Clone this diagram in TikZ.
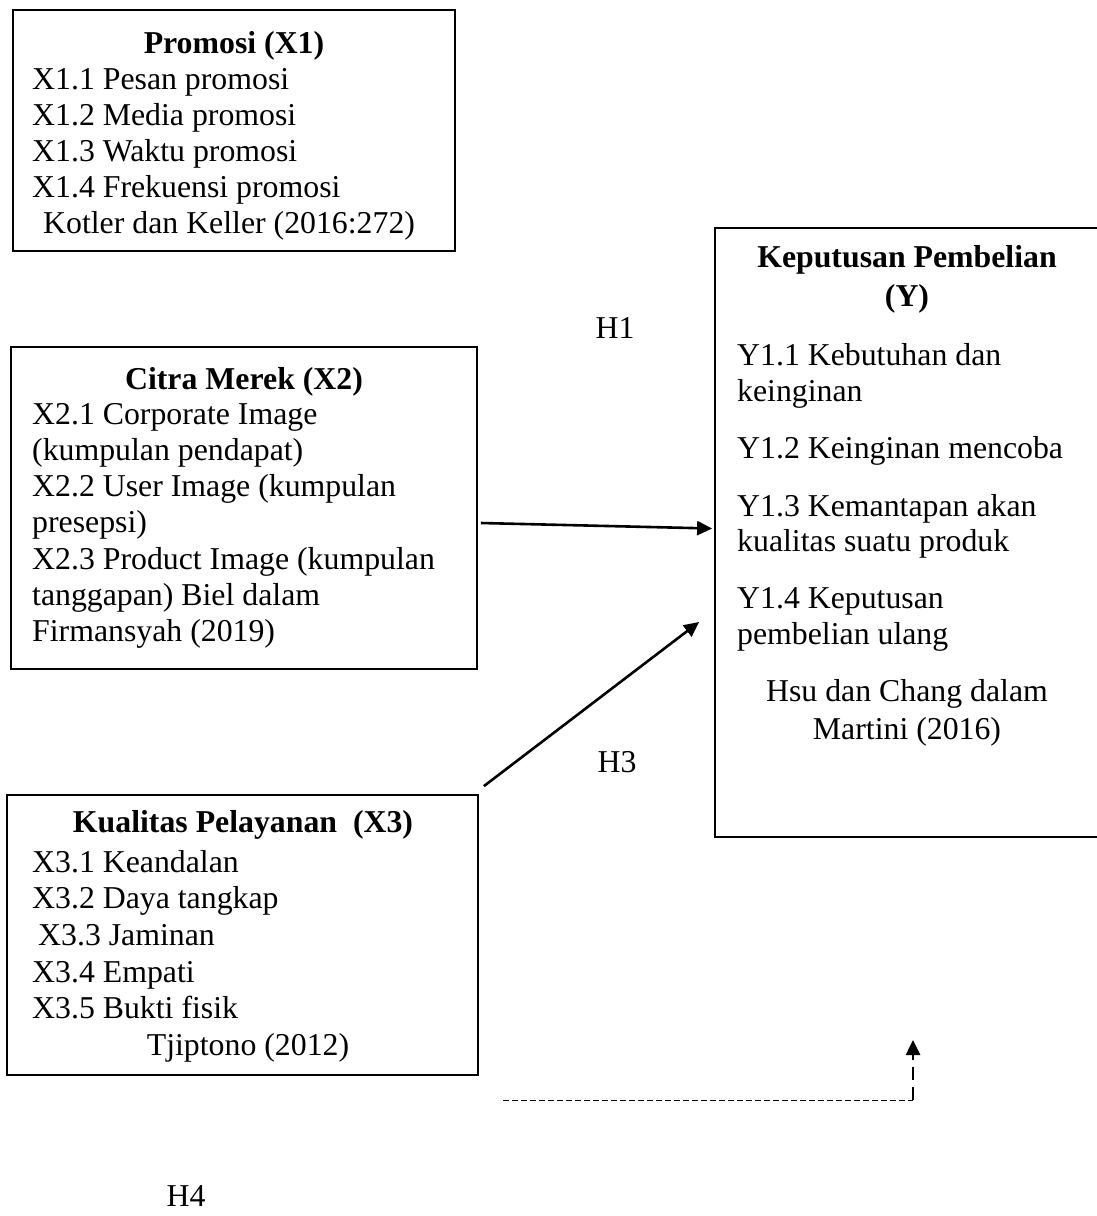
\documentclass[tikz,border=0pt]{standalone}
\usepackage{fontspec}
\setmainfont{Liberation Serif}
\usepackage{tikz}
\usetikzlibrary{arrows.meta,calc}

\newcommand{\bigtxt}{\fontsize{31.8}{36.5}\selectfont}

\tikzset{
  box/.style={draw, line width=1.8pt, inner sep=0pt},
  txt/.style={anchor=base west, inner sep=0pt},
  mid/.style={anchor=base, inner sep=0pt},
  ttl/.style={anchor=base, inner sep=0pt, font=\bigtxt\bfseries},
  arr/.style={-{Triangle[length=15pt,width=14pt]}, line width=2.6pt}
}

\begin{document}
\begin{tikzpicture}[x=1pt,y=-1pt,font=\bigtxt]
\useasboundingbox[fill=white] (0,0) rectangle (1097,1216);

% boxes
\node[box, minimum width=442pt, minimum height=241pt] (x1) at (234,130.5) {};
\node[box, minimum width=466pt, minimum height=322pt] (x2) at (244,508) {};
\node[box, minimum width=471pt, minimum height=280pt] (x3) at (242.5,935) {};
\node[box, minimum width=384pt, minimum height=609pt] (y) at (907,532.5) {};

% Promosi
\node[ttl] (t1) at (234,53) {Promosi (X1)};
\foreach \t [count=\i] in {X1.1 Pesan promosi, X1.2 Media promosi,
  X1.3 Waktu promosi, X1.4 Frekuensi promosi}
  \node[txt] (p\i) at (32,{89+36*(\i-1)}) {\t};
\node[txt] (s1) at (43,233) {Kotler dan Keller (2016:272)};

% Citra Merek
\node[ttl] (t2) at (244,389) {Citra Merek (X2)};
\foreach \t [count=\i] in {X2.1 Corporate Image, (kumpulan pendapat),
  X2.2 User Image (kumpulan, presepsi), X2.3 Product Image (kumpulan,
  tanggapan) Biel dalam, Firmansyah (2019)}
  \node[txt] (c\i) at (32,{424+36.3*(\i-1)}) {\t};

% Kualitas Pelayanan
\node[ttl] (t3) at (243,832) {Kualitas Pelayanan\ \ (X3)};
\node[txt] (k1) at (32,872) {X3.1 Keandalan};
\node[txt] (k2) at (32,908.7) {X3.2 Daya tangkap};
\node[txt] (k3) at (38,945.4) {X3.3 Jaminan};
\node[txt] (k4) at (32,982.1) {X3.4 Empati};
\node[txt] (k5) at (32,1018.8) {X3.5 Bukti fisik};
\node[mid] (s3) at (248,1055.5) {Tjiptono (2012)};

% Keputusan Pembelian
\node[ttl] (t4a) at (907,267) {Keputusan Pembelian};
\node[ttl] (t4b) at (907,306) {(Y)};
\node[txt] (y1a) at (737,365) {Y1.1 Kebutuhan dan};
\node[txt] (y1b) at (737,401) {keinginan};
\node[txt] (y2) at (737,458) {Y1.2 Keinginan mencoba};
\node[txt] (y3a) at (737,516) {Y1.3 Kemantapan akan};
\node[txt] (y3b) at (737,551) {kualitas suatu produk};
\node[txt] (y4a) at (737,608) {Y1.4 Keputusan};
\node[txt] (y4b) at (737,644) {pembelian ulang};
\node[mid] (s4a) at (907,701) {Hsu dan Chang dalam};
\node[mid] (s4b) at (907,739) {Martini (2016)};

% hipotesis
\node[mid] (h1) at (615,338) {H1};
\node[mid] (h3) at (617,772) {H3};
\node[mid] (h4) at (186,1206) {H4};

\draw[arr] ([shift={(3,15)}]x2.east) -- ([shift={(-2,-4)}]y.west);
\draw[arr] ([shift={(5,-8)}]x3.north east) -- ([shift={(-15,89.5)}]y.west);

\coordinate (d1) at (503,1100);
\coordinate (d2) at (913,1100);
\coordinate (d3) at (913,1040);
\draw[line width=1pt, dash pattern=on 6pt off 3pt] (d1) -- (d2);
\draw[arr, dash pattern=on 13pt off 7pt] (d2) -- (d3);
\end{tikzpicture}
\end{document}
